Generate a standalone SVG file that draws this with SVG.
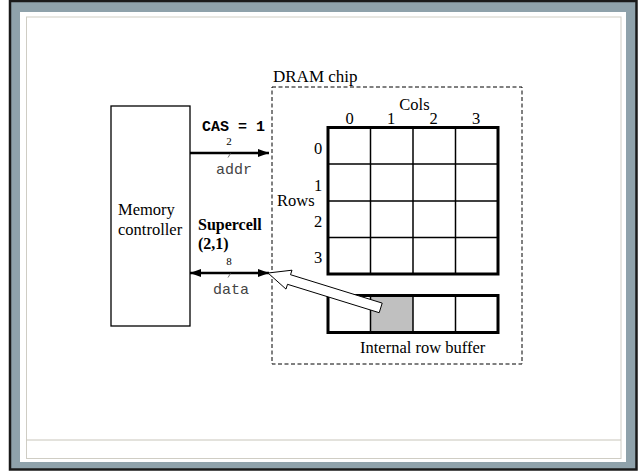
<svg xmlns="http://www.w3.org/2000/svg" width="640" height="471" viewBox="0 0 640 471">
<defs>
<style>
.serif{font-family:"Liberation Serif","Times New Roman",serif;fill:#000}
.mono{font-family:"Liberation Mono","Courier New",monospace}
.thin{fill:none;stroke:#000;stroke-width:1.3}
.thick{fill:none;stroke:#000;stroke-width:3}
.bus{stroke:#000;stroke-width:2.5;fill:none}
</style>
<marker id="ah" markerUnits="userSpaceOnUse" markerWidth="12" markerHeight="10" refX="11" refY="5" orient="auto-start-reverse">
<path d="M0,1 L11,5 L0,9 Z" fill="#000"/>
</marker>
</defs>

<!-- frame -->
<g id="frame">
<rect x="0" y="0" width="640" height="471" fill="#ffffff"/>
<rect x="10" y="1" width="626.5" height="468.5" fill="#8fa2ab" stroke="#1a1a1a" stroke-width="2.5"/>
<rect x="20" y="12" width="606" height="450" fill="#ffffff"/>
<rect x="26.5" y="17" width="594.5" height="441.5" fill="#ffffff" stroke="#cfcdc4" stroke-width="1"/>
<line x1="26.5" y1="440" x2="621" y2="440" stroke="#c8c5ba" stroke-width="1"/>
</g>

<!-- Memory controller -->
<g id="memory-controller">
<rect x="111" y="106" width="79" height="220" class="thin"/>
<text x="118" y="215" class="serif" font-size="16.5">Memory</text>
<text x="118" y="235" class="serif" font-size="16.5">controller</text>
</g>

<!-- DRAM chip -->
<g id="dram-chip">
<rect x="272" y="87" width="250" height="277" fill="none" stroke="#000" stroke-width="1" stroke-dasharray="4 2.5"/>
<text x="273" y="82" class="serif" font-size="17">DRAM chip</text>
</g>

<!-- Array -->
<g id="array">
<text x="414.5" y="110" class="serif" font-size="16.5" text-anchor="middle">Cols</text>
<g class="serif" font-size="16.5" text-anchor="middle">
<text x="349.5" y="124">0</text>
<text x="391" y="124">1</text>
<text x="433.5" y="124">2</text>
<text x="476" y="124">3</text>
<text x="318" y="154">0</text>
<text x="318" y="191">1</text>
<text x="318" y="227">2</text>
<text x="318" y="263">3</text>
</g>
<text x="277" y="206" class="serif" font-size="16.5">Rows</text>
<g stroke="#000" stroke-width="1.5">
<line x1="370.5" y1="127.5" x2="370.5" y2="274"/>
<line x1="413" y1="127.5" x2="413" y2="274"/>
<line x1="455.5" y1="127.5" x2="455.5" y2="274"/>
<line x1="328" y1="164" x2="498" y2="164"/>
<line x1="328" y1="201" x2="498" y2="201"/>
<line x1="328" y1="237.5" x2="498" y2="237.5"/>
</g>
<rect x="328" y="127.5" width="170" height="146.5" class="thick"/>
</g>

<!-- Internal row buffer -->
<g id="row-buffer">
<rect x="370.5" y="295.5" width="42.5" height="37" fill="#c0c0c0"/>
<g stroke="#000" stroke-width="1.5">
<line x1="370.5" y1="295.5" x2="370.5" y2="332.5"/>
<line x1="413" y1="295.5" x2="413" y2="332.5"/>
<line x1="455.5" y1="295.5" x2="455.5" y2="332.5"/>
</g>
<rect x="328" y="295.5" width="170" height="37" class="thick"/>
<text x="360" y="353" class="serif" font-size="16.5">Internal row buffer</text>
</g>

<!-- Labels -->
<g id="cas-label">
<text x="202" y="131" class="mono" font-size="15" font-weight="bold" fill="#000">CAS = 1</text>
</g>
<g id="supercell-label">
<text x="198" y="230" class="serif" font-size="16" font-weight="bold">Supercell</text>
<text x="198" y="249" class="serif" font-size="16" font-weight="bold">(2,1)</text>
</g>

<!-- connectors -->
<g id="connectors">
<line x1="190" y1="153" x2="269" y2="153" class="bus" marker-end="url(#ah)"/>
<line x1="228" y1="157.5" x2="230.5" y2="153.5" stroke="#666" stroke-width="0.9"/>
<text x="229" y="145" class="serif" font-size="11" text-anchor="middle">2</text>
<text x="216" y="174" class="mono" font-size="15" fill="#444">addr</text>

<line x1="190" y1="273" x2="269" y2="273" class="bus" marker-start="url(#ah)" marker-end="url(#ah)"/>
<line x1="228" y1="277.5" x2="230.5" y2="273.5" stroke="#666" stroke-width="0.9"/>
<text x="229" y="265" class="serif" font-size="11" text-anchor="middle">8</text>
<text x="213" y="294" class="mono" font-size="15" fill="#444">data</text>

<polygon points="268,273 292,270.2 290.5,274.7 382.2,303.1 379.2,312.7 287.5,284.3 286,289.1" fill="#fff" stroke="#000" stroke-width="1"/>
</g>
</svg>
